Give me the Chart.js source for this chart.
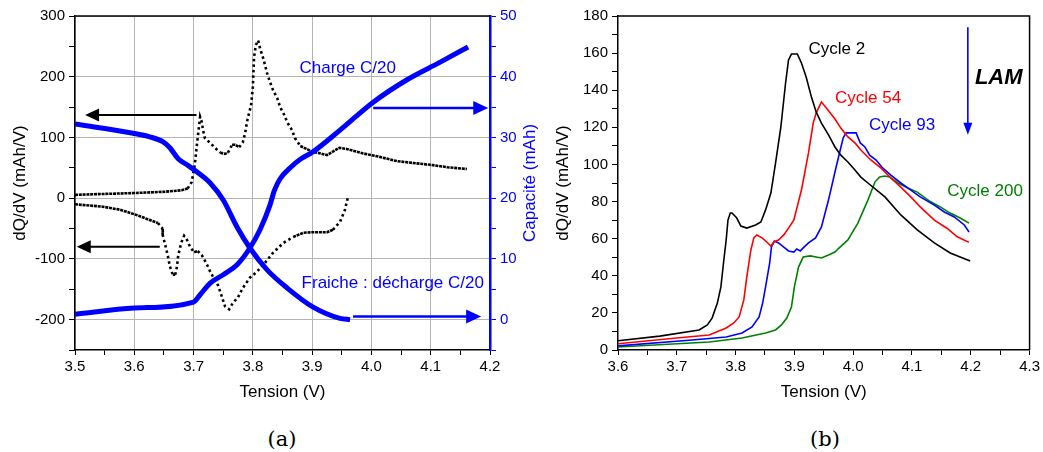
<!DOCTYPE html>
<html lang="fr">
<head>
<meta charset="UTF-8">
<title>dQ/dV - cellule fraiche et vieillissement</title>
<script src="https://cdn.jsdelivr.net/npm/chart.js"></script>
<style>
  body { margin: 0; background: #fff; }
  #wrap { position: relative; width: 1043px; height: 452px; }
  canvas { position: absolute; top: 0; }
  #chartA { left: 0; }
  #chartB { left: 545px; }
  .cap { position: absolute; top: 427px; line-height: 24px; font: 21px "DejaVu Serif", serif; transform: translateX(-50%); }
</style>
</head>
<body>
<div id="wrap">
  <canvas id="chartA" width="545" height="410"></canvas>
  <canvas id="chartB" width="498" height="410"></canvas>
  <div class="cap" style="left:282px">(a)</div>
  <div class="cap" style="left:825px">(b)</div>
</div>

<script>
// ---- (a) fresh cell, C/20 ----
const chargeV = [3.5,3.55,3.6,3.65,3.68,3.69,3.694,3.697,3.702,3.706,3.711,3.714,3.716,3.719,3.728,3.736,3.745,3.753,3.758,3.765,3.77,3.777,3.783,3.787,3.79,3.792,3.797,3.8,3.802,3.805,3.809,3.812,3.817,3.82,3.824,3.829,3.834,3.841,3.846,3.853,3.858,3.866,3.871,3.88,3.891,3.901,3.913,3.925,3.946,3.958,3.985,4.014,4.043,4.07,4.099,4.128,4.161];
const chargeDqdv = [5.5,7,8.5,10.5,13,16,22,27,55,91,134,125,112,99,91,83,75,73,75,88,88,84,92,107,125,134,153,183,232,252,260,247,232,221,206,191,178,165,150,137,125,112,99,86,81,76,74,71,83,81,74,68,61,58,55,51,48];

const dischV = [3.5,3.547,3.576,3.605,3.626,3.64,3.647,3.648,3.653,3.657,3.66,3.665,3.669,3.672,3.674,3.679,3.684,3.689,3.694,3.701,3.707,3.714,3.719,3.724,3.728,3.733,3.741,3.748,3.753,3.76,3.766,3.775,3.783,3.795,3.807,3.82,3.834,3.851,3.868,3.885,3.901,3.925,3.935,3.947,3.955,3.96];
const dischDqdv = [-10,-14,-19,-28,-36,-41,-49,-61,-80,-97,-112,-126,-126,-113,-95,-74,-62,-69,-80,-89,-87,-94,-103,-112,-121,-130,-143,-163,-178,-183,-173,-163,-148,-131,-121,-107,-90,-74,-64,-57,-56,-56,-52,-39,-20,0];

const capChargeV = [3.5,3.6,3.7,3.711,3.728,3.75,3.773,3.795,3.812,3.829,3.836,3.846,3.863,3.88,3.901,3.947,4.003,4.06,4.116,4.163];
const capCharge = [0.9,1.9,2.9,4.1,6.0,7.4,9.0,11.8,14.8,18.9,21.2,23.2,25.0,26.4,27.6,31.2,35.8,39.5,42.4,44.9];

const capDischV = [3.5,3.598,3.626,3.648,3.66,3.674,3.689,3.706,3.728,3.75,3.773,3.795,3.824,3.858,3.901,3.947,3.964];
const capDisch = [32.2,30.7,30.1,29.3,28.3,26.5,25.5,24.3,22.5,19.7,15.3,11.8,8.2,5.2,2.1,0.2,0];

// ---- (b) ageing, dQ/dV on charge ----
const cycleLabels = ['Cycle 2', 'Cycle 54', 'Cycle 93', 'Cycle 200'];
const cycleColors = ['#000000', '#ff0000', '#0000ff', '#008000'];

const c2V = [3.6,3.671,3.738,3.752,3.76,3.769,3.775,3.78,3.784,3.787,3.791,3.794,3.802,3.809,3.819,3.834,3.843,3.851,3.86,3.868,3.877,3.885,3.89,3.895,3.905,3.912,3.92,3.929,3.937,3.946,3.958,3.969,3.979,3.991,4.003,4.013,4.025,4.054,4.081,4.109,4.138,4.165,4.199];
const c2 = [5,7.5,10.8,13.5,17.2,25.3,34,48.5,59.3,70,73.8,73.8,71.1,66.8,65.7,67.4,69,75.5,84.6,100.8,120.2,143.9,156.3,159.5,159.5,154.7,147.1,136.3,128.3,122.3,115.9,109.4,105,101.3,97,93.2,90,82.5,72.8,64.7,57.7,52.3,48];

const c54V = [3.6,3.7,3.755,3.784,3.797,3.806,3.814,3.819,3.826,3.831,3.836,3.845,3.853,3.86,3.865,3.873,3.882,3.89,3.899,3.912,3.924,3.932,3.937,3.946,3.953,3.958,3.969,3.979,3.991,4.003,4.013,4.03,4.047,4.064,4.081,4.098,4.114,4.138,4.16,4.177,4.197];
const c54 = [3.4,6.5,8.1,11.9,14.6,17.8,27,39.3,53.9,60.4,62,60.4,58.2,56,58.2,59.3,62,65.7,70,86.2,106.2,122.3,127.7,133.7,131,129,124.5,119.6,114.8,111.6,107.8,102.4,98.1,92.7,87.8,82.5,77.1,70,65.5,61,58];

const c93V = [3.6,3.726,3.784,3.811,3.828,3.84,3.846,3.851,3.858,3.861,3.866,3.873,3.882,3.89,3.899,3.904,3.91,3.915,3.924,3.936,3.946,3.958,3.971,3.983,3.988,3.996,4.005,4.012,4.02,4.028,4.039,4.05,4.064,4.081,4.098,4.114,4.138,4.155,4.172,4.189,4.197];
const c93 = [2.2,5.4,7,9.2,12.4,17.8,25.3,34,47,55.5,58.7,57.7,55.5,53.4,52.8,54.4,53.4,55,57.7,60.4,66.3,80.8,98.6,114.3,117,117,117,111.6,109.4,105,102.4,98.1,94.3,90,86.2,82.5,78.1,74.4,71.7,67.4,63.6];

const c200V = [3.6,3.755,3.811,3.851,3.868,3.878,3.887,3.895,3.9,3.907,3.915,3.927,3.937,3.946,3.958,3.969,3.974,3.991,4.008,4.025,4.037,4.045,4.054,4.062,4.076,4.093,4.109,4.131,4.148,4.165,4.182,4.197];
const c200 = [1.6,4.3,6.5,9.2,10.8,13.5,17.2,23.2,34,44.7,50.1,50.7,50.1,49.6,51.2,52.8,54.4,59.3,68.4,80.8,90.5,93.2,93.8,93.2,90,87.3,85.1,80,77.1,73.8,71.1,68.4];

const BLUE = '#0000ff';
Chart.defaults.font.family = '"Liberation Sans", Arial, sans-serif';
Chart.defaults.color = '#000';

function pts(xs, ys) {
    return xs.map((x, i) => ({ x: x, y: ys[i] }));
}
function isMajor(v, step) {
    return Math.abs(v / step - Math.round(v / step)) < 1e-6;
}
// scattered-dot look: dense where the curve is flat, spaced out where it is steep
function dotDash(ctx) {
    const dx = Math.abs(ctx.p1.x - ctx.p0.x) || 0.01;
    const slope = Math.abs(ctx.p1.y - ctx.p0.y) / dx;
    return slope < 0.6 ? [3, 0.8] : [2.5, 3];
}

function drawArrow(ctx, x1, y1, x2, y2, color, width, headLen, headW) {
    const ang = Math.atan2(y2 - y1, x2 - x1);
    const len = Math.hypot(x2 - x1, y2 - y1);
    ctx.save();
    ctx.translate(x1, y1);
    ctx.rotate(ang);
    ctx.strokeStyle = color;
    ctx.fillStyle = color;
    ctx.lineWidth = width;
    ctx.beginPath();
    ctx.moveTo(0, 0);
    ctx.lineTo(len - headLen + 1, 0);
    ctx.stroke();
    ctx.beginPath();
    ctx.moveTo(len, 0);
    ctx.lineTo(len - headLen, -headW);
    ctx.lineTo(len - headLen, headW);
    ctx.closePath();
    ctx.fill();
    ctx.restore();
}

// arrows / texts in data units, drawn through the chart scales
function overlay(opts) {
    return {
        id: 'overlay',
        afterDatasetsDraw(chart) {
            const ctx = chart.ctx, area = chart.chartArea, sx = chart.scales.x;
            ctx.save();
            // top (and right) frame
            ctx.strokeStyle = '#000';
            ctx.lineWidth = 1.5;
            ctx.beginPath();
            ctx.moveTo(area.left, area.top);
            ctx.lineTo(area.right, area.top);
            if (opts.closeRight) ctx.lineTo(area.right, area.bottom);
            ctx.stroke();

            opts.arrows.forEach(a => {
                const sy = chart.scales[a.axis];
                drawArrow(ctx, sx.getPixelForValue(a.from[0]), sy.getPixelForValue(a.from[1]),
                    sx.getPixelForValue(a.to[0]), sy.getPixelForValue(a.to[1]),
                    a.color, a.width, a.head[0], a.head[1]);
            });
            opts.notes.forEach(n => {
                const sy = chart.scales[n.axis];
                ctx.font = n.font || '17px "Liberation Sans", Arial, sans-serif';
                ctx.fillStyle = n.color;
                ctx.textAlign = n.align || 'left';
                ctx.textBaseline = 'middle';
                ctx.fillText(n.text, sx.getPixelForValue(n.x), sy.getPixelForValue(n.y));
            });

            // right axis title, read bottom to top
            if (opts.rightTitle) {
                const s = chart.scales[opts.rightTitle.axis];
                ctx.translate(s.right - 15, (area.top + area.bottom) / 2);
                ctx.rotate(-Math.PI / 2);
                ctx.font = '17px "Liberation Sans", Arial, sans-serif';
                ctx.fillStyle = opts.rightTitle.color;
                ctx.textAlign = 'center';
                ctx.textBaseline = 'middle';
                ctx.fillText(opts.rightTitle.text, 0, 0);
            }
            ctx.restore();
        }
    };
}

const tickFont = { size: 15 };
const titleFont = { size: 17 };

// ---------- chart (a) ----------
new Chart(document.getElementById('chartA'), {
    type: 'line',
    data: {
        datasets: [
            { data: pts(capChargeV, capCharge), yAxisID: 'y2', borderColor: BLUE, borderWidth: 5,
              pointRadius: 0, cubicInterpolationMode: 'monotone' },
            { data: pts(capDischV, capDisch), yAxisID: 'y2', borderColor: BLUE, borderWidth: 5,
              pointRadius: 0, cubicInterpolationMode: 'monotone' },
            { data: pts(chargeV, chargeDqdv), yAxisID: 'y', borderColor: '#000', borderWidth: 2.6,
              segment: { borderDash: dotDash }, pointRadius: 0, tension: 0 },
            { data: pts(dischV, dischDqdv), yAxisID: 'y', borderColor: '#000', borderWidth: 2.6,
              segment: { borderDash: dotDash }, pointRadius: 0, tension: 0 }
        ]
    },
    options: {
        responsive: false,
        animation: false,
        layout: { padding: { top: 16, left: 0, right: 0, bottom: 0 } },
        plugins: { legend: { display: false }, tooltip: { enabled: false } },
        scales: {
            x: {
                type: 'linear', min: 3.5, max: 4.2,
                afterFit: s => { s.height = 60; },
                ticks: { stepSize: 0.05, maxTicksLimit: 100, autoSkip: false, maxRotation: 0, font: tickFont, padding: 3,
                         callback: v => isMajor(v, 0.1) ? v.toFixed(1) : '' },
                grid: { color: c => isMajor(c.tick.value, 0.1) ? '#b4b4b4' : 'rgba(0,0,0,0)', tickColor: '#000', tickLength: 5 },
                border: { color: '#000', width: 1.5 },
                title: { display: true, text: 'Tension (V)', font: titleFont, padding: { top: 0, bottom: 7 } }
            },
            y: {
                position: 'left', min: -250, max: 300,
                afterFit: s => { s.width = 75; },
                ticks: { stepSize: 50, maxTicksLimit: 100, autoSkip: false, font: tickFont, padding: 4,
                         callback: v => isMajor(v, 100) ? v : '' },
                grid: { color: c => isMajor(c.tick.value, 100) ? '#b4b4b4' : 'rgba(0,0,0,0)', tickColor: '#000', tickLength: 6 },
                border: { color: '#000', width: 1.5 },
                title: { display: true, text: 'dQ/dV (mAh/V)', font: titleFont, padding: { top: 10, bottom: 0 } }
            },
            y2: {
                position: 'right', min: -5, max: 50,
                afterFit: s => { s.width = 55; },
                ticks: { stepSize: 5, maxTicksLimit: 100, autoSkip: false, color: BLUE, font: tickFont, padding: 4,
                         callback: v => isMajor(v, 10) ? v : '' },
                grid: { drawOnChartArea: false, color: BLUE, tickColor: BLUE, tickLength: 6 },
                border: { color: BLUE, width: 2.5 }
            }
        }
    },
    plugins: [overlay({
        arrows: [
            { axis: 'y', from: [3.705, 137], to: [3.517, 137], color: '#000', width: 2, head: [14, 6.5] },
            { axis: 'y', from: [3.643, -80], to: [3.503, -80], color: '#000', width: 2, head: [14, 6.5] },
            { axis: 'y2', from: [4.003, 34.85], to: [4.197, 34.85], color: BLUE, width: 2.5, head: [15, 7] },
            { axis: 'y2', from: [3.969, 0.5], to: [4.185, 0.5], color: BLUE, width: 2.5, head: [15, 7] }
        ],
        notes: [
            { axis: 'y2', text: 'Charge C/20', x: 3.96, y: 41.4, color: BLUE, align: 'center' },
            { axis: 'y2', text: 'Fraiche : décharge C/20', x: 4.036, y: 5.9, color: BLUE, align: 'center' }
        ],
        rightTitle: { axis: 'y2', text: 'Capacité (mAh)', color: BLUE }
    })]
});

// ---------- chart (b) ----------
const cycleData = [pts(c2V, c2), pts(c54V, c54), pts(c93V, c93), pts(c200V, c200)];

new Chart(document.getElementById('chartB'), {
    type: 'line',
    data: {
        datasets: cycleData.map((d, i) => ({
            label: cycleLabels[i], data: d, borderColor: cycleColors[i],
            borderWidth: 1.6, pointRadius: 0, tension: 0
        }))
    },
    options: {
        responsive: false,
        animation: false,
        layout: { padding: { top: 16, left: 0, right: 10, bottom: 0 } },
        plugins: { legend: { display: false }, tooltip: { enabled: false } },
        scales: {
            x: {
                type: 'linear', min: 3.6, max: 4.3,
                afterFit: s => { s.height = 60; },
                ticks: { stepSize: 0.05, maxTicksLimit: 100, autoSkip: false, maxRotation: 0, font: tickFont, padding: 3,
                         callback: v => isMajor(v, 0.1) ? v.toFixed(1) : '' },
                grid: { drawOnChartArea: false, color: '#000', tickLength: 5 },
                border: { color: '#000', width: 1.5 },
                title: { display: true, text: 'Tension (V)', font: titleFont, padding: { top: 0, bottom: 7 } }
            },
            y: {
                min: 0, max: 180,
                afterFit: s => { s.width = 73; },
                ticks: { stepSize: 10, maxTicksLimit: 100, autoSkip: false, font: tickFont, padding: 4,
                         callback: v => isMajor(v, 20) ? v : '' },
                grid: { drawOnChartArea: false, color: '#000', tickLength: 6 },
                border: { color: '#000', width: 1.5 },
                title: { display: true, text: 'dQ/dV (mAh/V)', font: titleFont, padding: { top: 8, bottom: 0 } }
            }
        }
    },
    plugins: [overlay({
        closeRight: true,
        arrows: [
            { axis: 'y', from: [4.195, 174], to: [4.195, 116], color: BLUE, width: 1.6, head: [12, 4.5] }
        ],
        notes: [
            { axis: 'y', text: cycleLabels[0], x: 3.924, y: 162.2, color: cycleColors[0] },
            { axis: 'y', text: cycleLabels[1], x: 3.969, y: 135.8, color: cycleColors[1] },
            { axis: 'y', text: cycleLabels[2], x: 4.027, y: 121.3, color: cycleColors[2] },
            { axis: 'y', text: cycleLabels[3], x: 4.16, y: 85.7, color: cycleColors[3] },
            { axis: 'y', text: 'LAM', x: 4.207, y: 146.6, color: '#000',
              font: 'italic bold 22px "Liberation Sans", Arial, sans-serif' }
        ]
    })]
});
</script>
</body>
</html>
